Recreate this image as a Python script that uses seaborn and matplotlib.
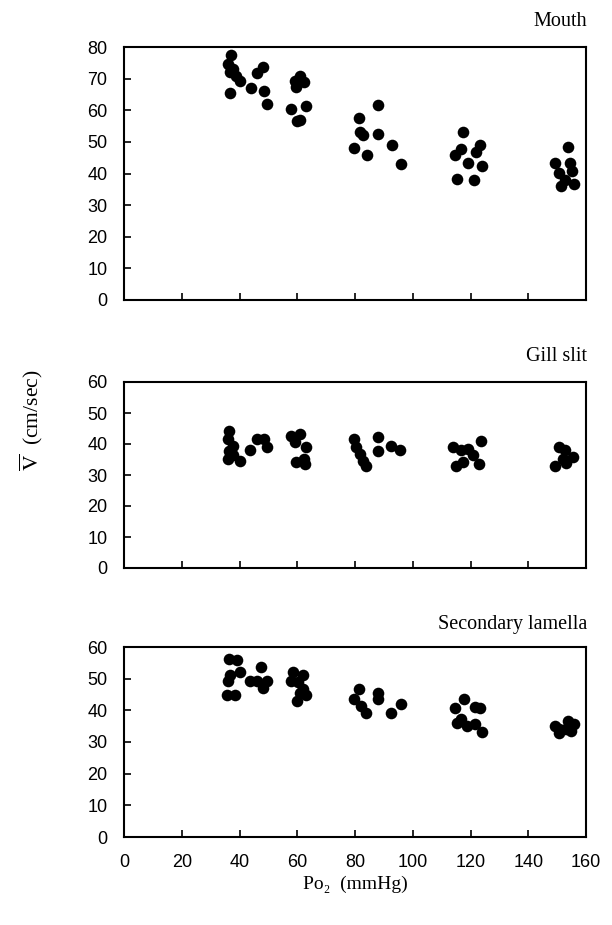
import matplotlib
matplotlib.use("Agg")
import matplotlib.pyplot as plt
import seaborn as sns
import pandas as pd

# ---- data ----
mouth_x = [36.9, 35.9, 37.8, 36.7, 38.8, 40.1, 36.7, 43.9, 48.0, 46.1, 48.6, 49.4,
           61.1, 59.2, 62.3, 59.5, 58.0, 62.9, 59.8, 61.1,
           88.0, 81.3, 81.7, 82.8, 88.0, 79.6, 84.0, 92.7, 96.0,
           117.5, 116.8, 114.5, 123.2, 122.0, 119.1, 124.0, 115.3, 121.3,
           153.9, 149.4, 154.3, 155.0, 150.6, 152.6, 151.5, 155.8]
mouth_y = [77.5, 74.6, 73.2, 72.0, 70.9, 69.1, 65.3, 66.9, 73.6, 71.7, 66.1, 61.9,
           70.9, 69.3, 69.0, 67.5, 60.5, 61.2, 56.6, 56.9,
           61.6, 57.4, 53.1, 52.2, 52.6, 48.2, 46.0, 48.9, 43.1,
           53.1, 47.8, 45.7, 48.9, 46.8, 43.2, 42.3, 38.4, 38.1,
           48.5, 43.2, 43.2, 40.7, 40.2, 38.1, 36.0, 36.7]

gill_x = [36.5, 36.1, 37.8, 36.5, 37.6, 35.9, 40.1, 43.8, 46.1, 48.4, 49.6,
          58.0, 61.1, 59.2, 63.2, 59.5, 62.4, 62.6,
          79.6, 80.5, 81.7, 82.6, 83.7, 88.0, 88.0, 92.6, 95.7,
          114.0, 116.8, 119.1, 123.8, 120.9, 122.9, 117.4, 115.1,
          150.6, 152.9, 155.5, 153.2, 149.1, 152.0]
gill_y = [44.1, 41.6, 39.5, 37.9, 36.5, 35.2, 34.5, 38.2, 41.6, 41.6, 38.9,
          42.7, 43.2, 40.7, 38.9, 34.1, 35.2, 33.5,
          41.6, 38.9, 36.8, 34.6, 32.8, 42.2, 37.8, 39.4, 38.1,
          39.1, 38.1, 38.3, 41.0, 36.5, 33.5, 34.3, 32.9,
          39.1, 38.1, 35.9, 33.8, 32.9, 35.2]

lam_x = [36.5, 39.2, 40.1, 36.7, 36.1, 35.5, 38.4, 47.6, 43.8, 46.1, 49.6, 48.2,
         58.6, 62.0, 57.7, 60.3, 62.0, 63.0, 59.8, 61.0,
         81.3, 79.6, 82.2, 83.7, 88.0, 88.0, 96.1, 92.6,
         117.6, 114.5, 121.5, 123.2, 116.8, 115.3, 118.8, 121.5, 124.0,
         149.1, 150.5, 153.7, 155.8, 154.9, 150.6, 153.0]
lam_y = [56.2, 55.9, 52.2, 51.1, 49.2, 44.8, 44.8, 53.6, 49.2, 49.2, 49.2, 46.9,
         52.1, 51.1, 49.3, 48.8, 46.7, 44.8, 43.0, 45.5,
         46.7, 43.5, 41.4, 39.1, 45.4, 43.5, 41.9, 39.1,
         43.7, 40.6, 41.2, 40.6, 37.4, 36.0, 35.1, 35.6, 33.2,
         35.1, 34.0, 36.7, 35.6, 33.5, 33.0, 34.0]

panel_titles = ["Mouth", "Gill slit", "Secondary lamella"]
x_ticks = [0, 20, 40, 60, 80, 100, 120, 140, 160]
y_ticks_top = [0, 10, 20, 30, 40, 50, 60, 70, 80]
y_ticks_other = [0, 10, 20, 30, 40, 50, 60]

# ---- style ----
sns.set_theme(style="ticks")
plt.rcParams["font.family"] = ["Liberation Sans", "DejaVu Sans"]
plt.rcParams["mathtext.fontset"] = "stix"

W, H = 612, 925
fig = plt.figure(figsize=(W / 100, H / 100), dpi=100)

def frac(left, top, right, bottom):
    return [left / W, 1 - bottom / H, (right - left) / W, (bottom - top) / H]

axes_rects = [frac(124, 47, 586, 300), frac(124, 382, 586, 568), frac(124, 647, 586, 837)]
datasets = [(mouth_x, mouth_y, y_ticks_top),
            (gill_x, gill_y, y_ticks_other),
            (lam_x, lam_y, y_ticks_other)]
title_y = [22, 356, 625]

serif = ["Liberation Serif", "DejaVu Serif"]

for i, (rect, (xs, ys, yt)) in enumerate(zip(axes_rects, datasets)):
    ax = fig.add_axes(rect)
    df = pd.DataFrame({"x": xs, "y": ys})
    sns.scatterplot(data=df, x="x", y="y", ax=ax, color="black", s=70,
                    edgecolor="black", linewidth=0, legend=False)
    ax.set_xlim(0, 160)
    ax.set_ylim(0, yt[-1])
    ax.set_xticks(x_ticks)
    ax.set_yticks(yt)
    ax.set_xlabel("")
    ax.set_ylabel("")
    ax.tick_params(direction="in", length=5, width=1.2, labelsize=13,
                   color="black", labelcolor="black", pad=6)
    ax.tick_params(axis="y", pad=12)
    if i < 2:
        ax.tick_params(axis="x", labelbottom=False)
    else:
        ax.tick_params(axis="x", pad=12)
    for sp in ax.spines.values():
        sp.set_visible(True)
        sp.set_color("black")
        sp.set_linewidth(1.5)
    fig.text(587 / W, 1 - title_y[i] / H, panel_titles[i], ha="right", va="center",
             fontsize=14.5, family=serif, color="black")

fig.text(31 / W, 1 - 420 / H, r"$\overline{\mathrm{V}}$  (cm/sec)", rotation=90,
         ha="center", va="center", fontsize=15.5, family=serif, color="black")
fig.text(355 / W, 1 - 884 / H, "Po\u2082  (mmHg)", ha="center", va="center",
         fontsize=14, family=serif, color="black")

fig.savefig("out.png", dpi=100, facecolor="white")
